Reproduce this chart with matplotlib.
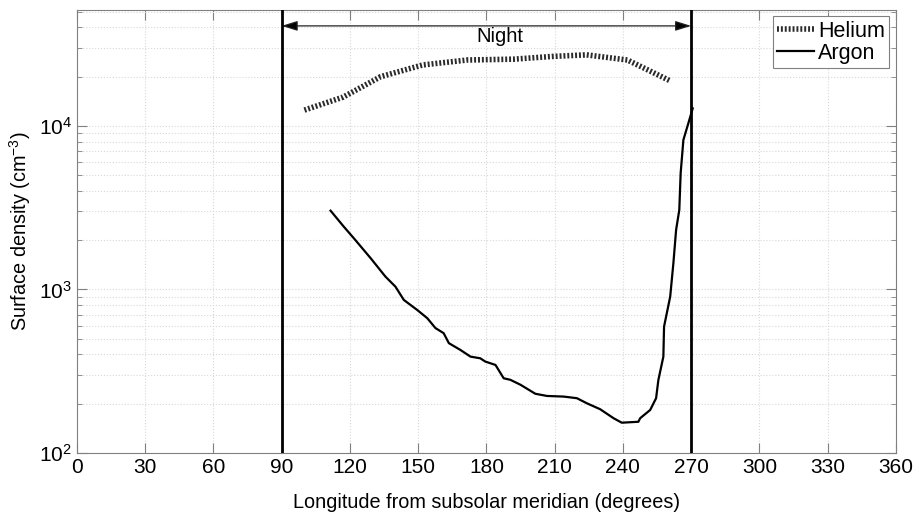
import matplotlib
matplotlib.use("Agg")
import matplotlib.pyplot as plt
from matplotlib.ticker import LogLocator, NullFormatter
import numpy as np

plt.rcParams['font.family'] = ['Liberation Sans', 'DejaVu Sans']
plt.rcParams['mathtext.fontset'] = 'custom'
plt.rcParams['mathtext.rm'] = 'Liberation Sans'
plt.rcParams['mathtext.it'] = 'Liberation Sans'

# Helium surface density vs longitude
he_lon = [100, 117, 133.5, 152, 171.6, 192, 209, 224, 242, 261]
he_dens = [1.25e4, 1.5e4, 2.0e4, 2.36e4, 2.53e4, 2.56e4, 2.66e4, 2.72e4, 2.53e4, 1.88e4]

# Argon surface density vs longitude
ar_lon = [111.5, 117.3, 121.7, 129.1, 135.6, 140, 143.7, 149.5, 154, 157.6,
          161.2, 163.5, 168.6, 173, 177.3, 179.5, 184, 187.6, 190.5, 195,
          201.5, 206.6, 214, 219.8, 224.2, 230, 235.9, 239.5, 246.8, 247.6,
          252, 254.6, 255.6, 257.8, 258.1, 260.8, 262.2, 263.4, 264.8, 265.4,
          266.6, 268.8, 270.7]
ar_dens = [3030, 2420, 2057, 1553, 1198, 1040, 862, 750, 667, 580,
           540, 469, 426, 388, 379, 362, 345, 286, 280, 261,
           230, 223, 221, 216, 201, 185, 163, 153, 155, 163,
           183, 216, 279, 388, 592, 903, 1445, 2312, 3063, 5139,
           8210, 10400, 12800]

night_start, night_end = 90, 270
x_ticks = np.arange(0, 361, 30)

fig = plt.figure(figsize=(9.16, 5.17), dpi=100)
ax = fig.add_axes([0.084, 0.124, 0.894, 0.857])

ax.plot(he_lon, he_dens, color='#2a2a2a', lw=4, linestyle=(0, (0.35, 0.35)),
        label='Helium', zorder=3)
ax.plot(ar_lon, ar_dens, color='black', lw=1.6, label='Argon', zorder=3)

ax.axvline(night_start, color='black', lw=2, zorder=4)
ax.axvline(night_end, color='black', lw=2, zorder=4)
ax.annotate('', xy=(night_start, 4.09e4), xytext=(night_end, 4.09e4),
            arrowprops=dict(arrowstyle='<|-|>,head_length=0.8,head_width=0.25',
                            color='#222222', lw=0.9, mutation_scale=12,
                            shrinkA=0, shrinkB=0, fc='black'))
ax.text(186, 3.5e4, 'Night', ha='center', va='center', fontsize=14.5)

ax.set_yscale('log')
ax.set_xlim(0, 360)
ax.set_ylim(1e2, 10 ** 4.71)
ax.set_xticks(x_ticks)
ax.yaxis.set_major_locator(LogLocator(base=10, numticks=10))
ax.yaxis.set_minor_locator(LogLocator(base=10, subs=np.arange(2, 10), numticks=20))
ax.yaxis.set_minor_formatter(NullFormatter())

ax.grid(True, which='major', color='#d8d8d8', linestyle=':', lw=0.8)
ax.grid(True, which='minor', axis='y', color='#d8d8d8', linestyle=':', lw=0.8)
ax.tick_params(which='both', direction='in', top=True, right=True,
               color='#808080', labelsize=15)
ax.tick_params(which='major', length=7)
ax.tick_params(which='minor', length=3.5)
for s in ax.spines.values():
    s.set_color('#808080')

ax.set_xlabel('Longitude from subsolar meridian (degrees)', fontsize=14.3, labelpad=12)
ax.set_ylabel('Surface density (cm$^{-3}$)', fontsize=14.3, labelpad=4)

leg = ax.legend(loc='upper right', fontsize=15.5, handlelength=1.7,
                handletextpad=0.2, borderpad=0.2, labelspacing=0.05,
                fancybox=False, framealpha=1, borderaxespad=0.3)
leg.get_frame().set_edgecolor('#808080')
leg.get_frame().set_linewidth(0.8)

fig.savefig('out.png', dpi=100)
